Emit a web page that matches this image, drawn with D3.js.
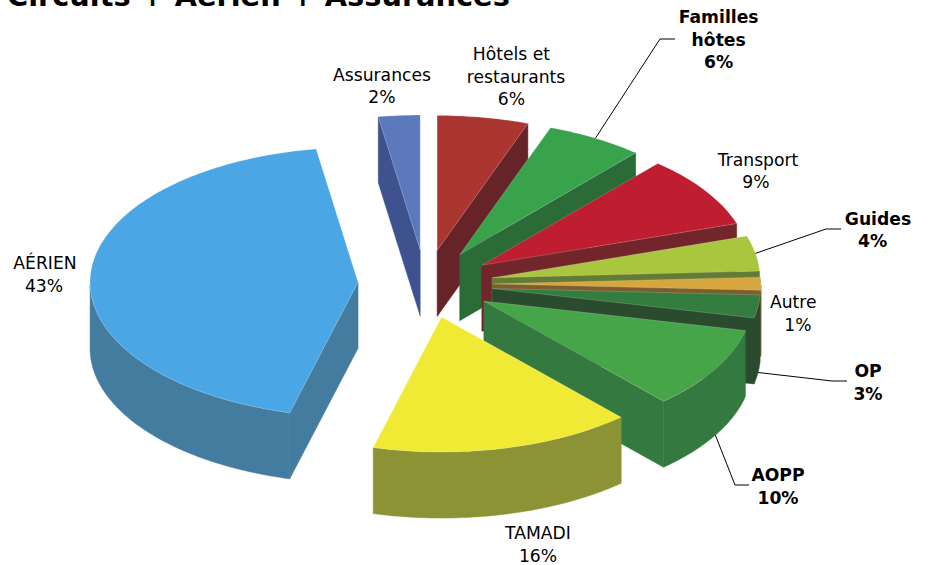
<!DOCTYPE html>
<html>
<head>
<meta charset="utf-8">
<script src="https://cdn.jsdelivr.net/npm/d3@7"></script>
<style>
  html, body { margin: 0; padding: 0; background: #fff; }
  text { font-family: "DejaVu Sans", sans-serif; fill: #000; }
  .slice-label { font-size: 17.2px; text-anchor: middle; }
  .slice-label.strong { font-weight: bold; font-size: 17.2px; }
  .leader { fill: none; stroke: #000; stroke-width: 1; }
</style>
</head>
<body>
<svg id="chart" width="930" height="565"></svg>
<script>
const titleText = 'Circuits + Aérien + Assurances';

// clockwise from 12 o'clock; the labels print rounded percents
const categories = ['Hôtels et restaurants', 'Familles hôtes', 'Transport', 'Guides', 'Autre', 'OP', 'AOPP', 'TAMADI', 'AÉRIEN', 'Assurances'];
const values = [5.5, 5.9, 8.6, 4.2, 1.55, 2.75, 9.8, 15.8, 43.4, 2.5];
const percentLabels = ['6%', '6%', '9%', '4%', '1%', '3%', '10%', '16%', '43%', '2%'];
const topColors = ['#ab3530', '#39a34c', '#be1e2f', '#a8c63e', '#d8a63e', '#327d3f', '#45a548', '#f0ea35', '#4ba6e6', '#5b79bb'];
const sideColors = ['#672428', '#2a6b38', '#72262b', '#627c33', '#7b5f2f', '#2b4b2f', '#34793f', '#8c9335', '#447c9f', '#3f5290'];

// label placement, by category index
const labelLines = [['Hôtels et', 'restaurants'], ['Familles', 'hôtes'], ['Transport'], ['Guides'], ['Autre'], ['OP'], ['AOPP'], ['TAMADI'], ['AÉRIEN'], ['Assurances']];
const labelPos = [[516, 60], [718.7, 23], [758, 165.5], [878, 224.5], [793.3, 308], [868, 377], [778, 481], [538, 539], [45, 269], [382, 80.5]];
// the source chart does not centre every row, x nudges per row
const rowNudge = new Map([
  [0, [-4.6, 0, -4.6]],
  [2, [0, -2]],
  [3, [0, -5.3]],
  [4, [0, 4.7]],
  [8, [0, -1]]
]);
const strongLabels = [1, 3, 5, 6];
// leader: elbow x, elbow y, end x, and whether it leaves from the bottom of the wall
const leaders = new Map([
  [1, { elbow: [660, 39], endX: 675, low: false }],
  [3, { elbow: [826, 229], endX: 841, low: false }],
  [5, { elbow: [832, 381], endX: 847, low: true }],
  [6, { elbow: [735, 485], endX: 749, low: true }]
]);

const centerX = 425.5;
const centerY = 284;
const radiusX = 268;
const radiusY = 135;
const depth = 66;
const explode = 0.252;

const svg = d3.select('#chart');

const x = d3.scaleLinear().domain([-1, 1]).range([centerX - radiusX, centerX + radiusX]);
const y = d3.scaleLinear().domain([-1, 1]).range([centerY + radiusY, centerY - radiusY]);

const pie = d3.pie().sort(null).value(d => d);
const slices = pie(values).map((d, i) => {
  const mid = (d.startAngle + d.endAngle) / 2;
  return {
    index: i,
    start: d.startAngle,
    end: d.endAngle,
    mid,
    offX: explode * Math.sin(mid),
    offY: explode * Math.cos(mid)
  };
});

const rimPoint = (s, a, r = 1) => [x(s.offX + r * Math.sin(a)), y(s.offY + r * Math.cos(a))];
const lower = p => [p[0], p[1] + depth];
const line = d3.line();

function rimAngles(s) {
  const n = Math.max(2, Math.ceil((s.end - s.start) / 0.02));
  return d3.range(n + 1).map(k => s.start + ((s.end - s.start) * k) / n);
}

// a wall hangs a strip of top-outline points down by the pie's depth
const wallOf = pts => [...pts, ...pts.map(lower).reverse()];

// back slices first so the front ones paint over them
const drawOrder = slices.slice().sort((a, b) => d3.descending(a.offY, b.offY));

const groups = svg.append('g').attr('class', 'pie')
  .selectAll('g')
  .data(drawOrder)
  .enter()
  .append('g');

groups.each(function (s) {
  const g = d3.select(this);
  const apex = rimPoint(s, 0, 0);
  const angles = rimAngles(s);
  const rim = angles.map(a => rimPoint(s, a));
  const outline = [apex, ...rim];

  // the top outline runs clockwise, so an edge going left faces the viewer
  const walls = [];
  if (rim[0][0] < apex[0] - 0.01) walls.push(wallOf([apex, rim[0]]));
  const front = angles
    .filter(a => a >= Math.PI / 2 && a <= Math.PI * 1.5)
    .map(a => rimPoint(s, a));
  if (front.length > 1) walls.push(wallOf(front));
  if (rim[rim.length - 1][0] > apex[0] + 0.01) walls.push(wallOf([rim[rim.length - 1], apex]));

  g.selectAll('path.wall')
    .data(walls)
    .enter()
    .append('path')
    .attr('class', 'wall')
    .attr('d', d => `${line(d)}Z`)
    .attr('fill', sideColors[s.index])
    .attr('stroke', sideColors[s.index])
    .attr('stroke-width', 0.5);

  g.append('path')
    .attr('class', 'top')
    .attr('d', `${line(outline)}Z`)
    .attr('fill', topColors[s.index])
    .attr('stroke', '#fff')
    .attr('stroke-opacity', 0.3)
    .attr('stroke-width', 0.6);
});

// leader lines from the middle of the slice rim
svg.append('g')
  .selectAll('path')
  .data(slices.filter(s => leaders.has(s.index)))
  .enter()
  .append('path')
  .attr('class', 'leader')
  .attr('d', (s) => {
    const l = leaders.get(s.index);
    const from = rimPoint(s, s.mid);
    const a = l.low ? lower(from) : from;
    return line([a, l.elbow, [l.endX, l.elbow[1]]]);
  });

const labels = svg.append('g')
  .selectAll('text')
  .data(categories)
  .enter()
  .append('text')
  .attr('class', (d, i) => (strongLabels.includes(i) ? 'slice-label strong' : 'slice-label'))
  .attr('x', (d, i) => labelPos[i][0])
  .attr('y', (d, i) => labelPos[i][1]);

labels.each(function (d, i) {
  const rows = labelLines[i].concat(percentLabels[i]);
  const nudge = rowNudge.get(i) || [];
  d3.select(this).selectAll('tspan')
    .data(rows)
    .enter()
    .append('tspan')
    .attr('x', (r, k) => labelPos[i][0] + (nudge[k] || 0))
    .attr('dy', (r, k) => (k === 0 ? 0 : 22.5))
    .text(r => r);
});

svg.append('text')
  .attr('x', 7)
  .attr('y', 6)
  .style('font-size', '28.8px')
  .style('font-weight', 'bold')
  .text(titleText);
</script>
</body>
</html>
